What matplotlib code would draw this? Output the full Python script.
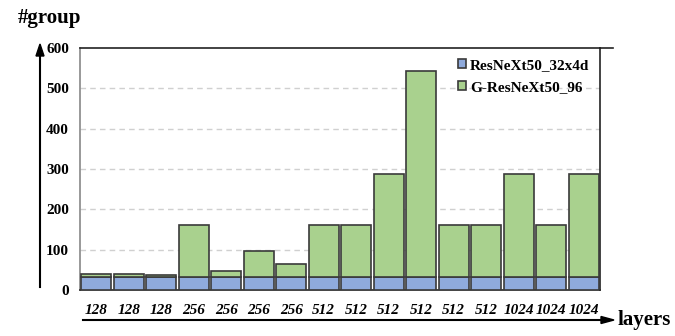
import numpy as np
import matplotlib.pyplot as plt

plt.rcParams['font.family'] = ['Liberation Serif', 'DejaVu Serif']

layers = ['128', '128', '128', '256', '256', '256', '256', '512', '512', '512',
          '512', '512', '512', '1024', '1024', '1024']
resnext = [32] * 16
g_resnext = [8, 8, 4, 128, 16, 64, 32, 128, 128, 256, 512, 128, 128, 256, 128, 256]

fig = plt.figure(figsize=(6.75, 3.36), dpi=100)
ax = fig.add_axes([80 / 675, 1 - 290 / 336, 520 / 675, 242 / 336])

x = np.arange(len(layers))
ax.bar(x, resnext, width=0.92, color='#8FAADC', edgecolor='#3a3a3a', linewidth=1.2,
       label='ResNeXt50_32x4d', zorder=3)
ax.bar(x, g_resnext, width=0.92, bottom=resnext, color='#A9D18E', edgecolor='#3a3a3a',
       linewidth=1.2, label='G-ResNeXt50_96', zorder=3)

ax.set_xlim(-0.5, len(layers) - 0.5)
ax.set_ylim(0, 600)
ax.set_yticks(range(0, 700, 100))
ax.set_yticklabels([str(v) for v in range(0, 700, 100)], fontweight='bold', fontsize=11)
ax.set_xticks(x)
ax.set_xticklabels(layers, fontweight='bold', fontstyle='italic', fontsize=11)
ax.tick_params(length=0)
ax.tick_params(axis='x', pad=10)
ax.tick_params(axis='y', pad=8)

for y in range(100, 600, 100):
    ax.axhline(y, color='#d0d0d0', linestyle=(0, (4, 3)), linewidth=1, zorder=1)

ax.spines['left'].set_color('#888888')
ax.spines['bottom'].set_color('#222222')
ax.spines['top'].set_color('#222222')
ax.spines['right'].set_color('#222222')
for s in ax.spines.values():
    s.set_linewidth(1.2)

# top line runs a bit past the plot box
fig.add_artist(plt.Line2D([600 / 675, 613 / 675], [1 - 48 / 336] * 2,
                          color='#222222', linewidth=1.2))

leg = ax.legend(loc='upper right', frameon=False, prop={'weight': 'bold', 'size': 11},
                handlelength=0.55, handleheight=0.55, handletextpad=0.25,
                labelspacing=0.6, borderaxespad=0.3)

# axis arrows
fig.add_artist(plt.Line2D([40 / 675] * 2, [1 - 287 / 336, 1 - 55 / 336],
                          color='black', linewidth=1.5))
fig.patches.append(plt.Polygon([[36 / 675, 1 - 56 / 336], [44 / 675, 1 - 56 / 336],
                                [40 / 675, 1 - 44 / 336]], closed=True,
                               color='black', transform=fig.transFigure))
fig.add_artist(plt.Line2D([83 / 675, 603 / 675], [1 - 320 / 336] * 2,
                          color='black', linewidth=1.5))
fig.patches.append(plt.Polygon([[601 / 675, 1 - 316.5 / 336], [601 / 675, 1 - 323.5 / 336],
                                [614 / 675, 1 - 320 / 336]], closed=True,
                               color='black', transform=fig.transFigure))

fig.text(18 / 675, 1 - 18 / 336, '#group', fontsize=15, fontweight='bold', va='center')
fig.text(618 / 675, 1 - 320 / 336, 'layers', fontsize=15, fontweight='bold', va='center')

fig.savefig('out.png', dpi=100)
